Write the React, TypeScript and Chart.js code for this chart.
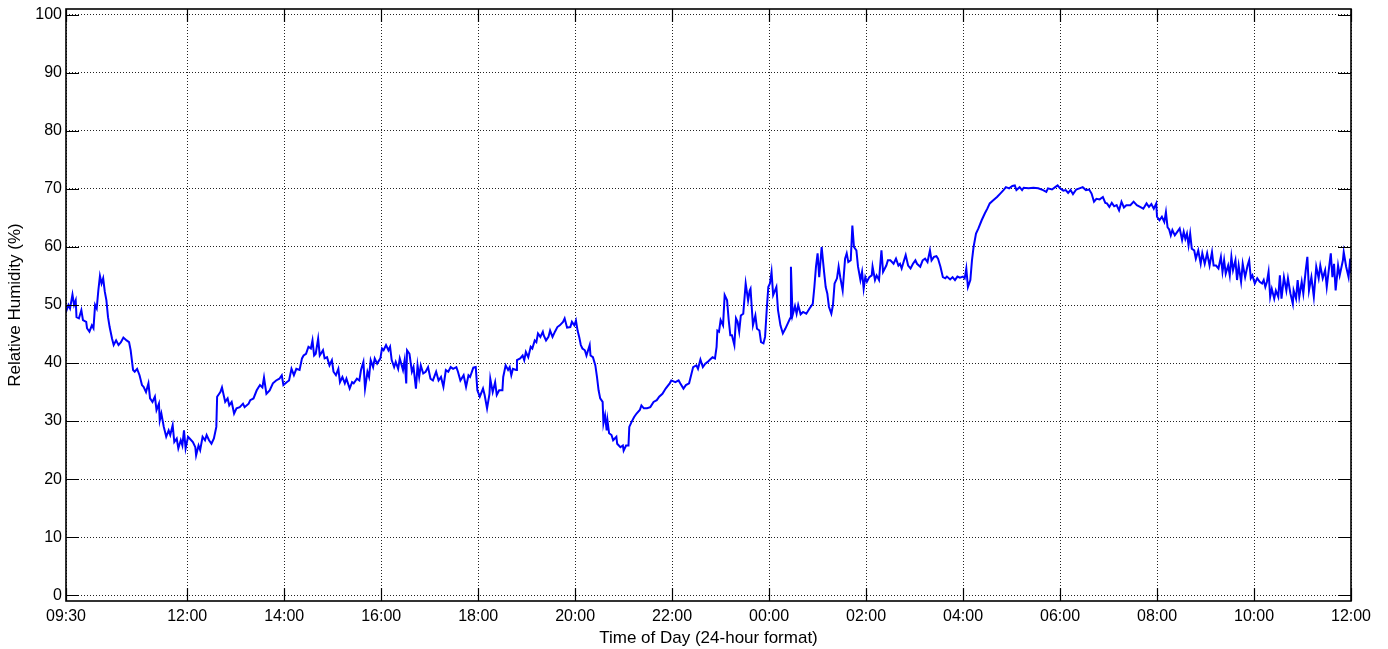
import { useEffect, useRef } from "react";
import { Chart, registerables } from "chart.js";

Chart.register(...registerables);

// Minutes elapsed since the 09:30 start of the recording
const timeMinutes = [
  0, 3, 5, 8, 10, 12, 13, 16, 19, 21, 25, 26, 29, 32, 34, 36, 38, 40, 42, 44, 46, 48, 50, 52, 54, 57, 59, 62, 65, 68,
  71, 75, 78, 80, 83, 85, 88, 91, 94, 96, 99, 102, 104, 107, 110, 112, 115, 116, 118, 121, 124, 127, 129, 132, 134,
  137, 139, 142, 144, 146, 148, 151, 153, 157, 160, 161, 164, 166, 169, 172, 174, 177, 180, 183, 186, 187, 191, 193,
  197, 200, 202, 205, 208, 211, 215, 219, 221, 226, 228, 232, 236, 240, 243, 245, 248, 252, 256, 260, 264, 267, 269,
  273, 276, 279, 282, 285, 289, 292, 294, 297, 300, 303, 305, 307, 309, 312, 314, 318, 320, 323, 326, 329, 331, 334,
  337, 339, 342, 345, 347, 351, 354, 356, 360, 363, 365, 368, 370, 373, 375, 377, 380, 382, 385, 389, 391, 393, 396,
  399, 401, 403, 406, 408, 411, 413, 417, 419, 421, 422, 425, 428, 430, 433, 435, 437, 439, 442, 445, 448, 451, 454,
  458, 461, 464, 467, 470, 473, 476, 479, 483, 485, 488, 492, 495, 498, 500, 504, 507, 509, 512, 516, 518, 521, 524,
  525, 528, 531, 533, 536, 540, 541, 544, 547, 549, 551, 553, 557, 558, 562, 565, 567, 569, 572, 575, 577, 580, 582,
  584, 587, 590, 591, 594, 597, 599, 602, 605, 608, 611, 615, 617, 620, 624, 626, 629, 631, 633, 635, 637, 639, 642,
  644, 646, 648, 649, 652, 655, 657, 659, 661, 664, 665, 667, 669, 670, 672, 675, 677, 681, 682, 686, 689, 690, 693,
  696, 697, 700, 703, 706, 710, 712, 715, 719, 723, 727, 731, 734, 738, 742, 747, 749, 754, 758, 760, 764, 767, 771,
  776, 780, 782, 785, 788, 791, 794, 797, 800, 803, 805, 806, 808, 810, 813, 815, 818, 820, 822, 824, 827, 829, 831,
  833, 835, 838, 841, 844, 846, 847, 850, 853, 855, 858, 860, 863, 865, 867, 869, 871, 873, 875, 879, 881, 884, 887,
  890, 893, 896, 897, 899, 902, 904, 906, 909, 912, 916, 920, 924, 926, 928, 930, 932, 935, 938, 940, 942, 944, 947,
  949, 951, 954, 956, 958, 961, 964, 966, 968, 971, 973, 975, 978, 980, 983, 985, 987, 989, 991, 994, 997, 998, 1001,
  1003, 1006, 1009, 1011, 1015, 1017, 1020, 1024, 1027, 1030, 1032, 1034, 1037, 1039, 1042, 1045, 1048, 1051, 1053,
  1057, 1060, 1063, 1066, 1069, 1071, 1074, 1077, 1079, 1082, 1085, 1088, 1090, 1094, 1097, 1100, 1103, 1106, 1110,
  1112, 1114, 1116, 1119, 1121, 1123, 1126, 1129, 1133, 1137, 1140, 1143, 1147, 1152, 1156, 1160, 1163, 1167, 1171,
  1174, 1176, 1180, 1183, 1185, 1191, 1197, 1203, 1209, 1213, 1215, 1220, 1224, 1227, 1230, 1234, 1237, 1240, 1243,
  1246, 1250, 1254, 1258, 1262, 1266, 1269, 1272, 1275, 1279, 1283, 1286, 1288, 1291, 1294, 1297, 1300, 1303, 1306,
  1309, 1312, 1317, 1321, 1325, 1329, 1333, 1337, 1340, 1343, 1346, 1349, 1350, 1353, 1356, 1359, 1361, 1363, 1365,
  1367, 1369, 1372, 1375, 1378, 1381, 1383, 1385, 1387, 1389, 1391, 1393, 1396, 1398, 1401, 1404, 1406, 1409, 1412,
  1415, 1418, 1420, 1423, 1426, 1429, 1431, 1433, 1435, 1438, 1440, 1442, 1444, 1447, 1449, 1451, 1454, 1456, 1459,
  1462, 1464, 1466, 1468, 1471, 1474, 1477, 1480, 1482, 1484, 1486, 1488, 1490, 1492, 1495, 1497, 1500, 1502, 1504,
  1507, 1510, 1512, 1515, 1518, 1519, 1522, 1524, 1526, 1529, 1531, 1534, 1536, 1538, 1541, 1544, 1547, 1550, 1552,
  1555, 1558, 1560, 1563, 1565, 1567, 1569, 1571, 1574, 1576, 1580, 1581, 1584, 1587, 1589, 1590,
];

// Relative humidity (%)
const humidity = [
  48.8, 50.0, 49.4, 51.8, 50.0, 50.8, 47.9, 47.7, 49.1, 47.4, 47.1, 46.0, 45.4, 46.5, 46.0, 50.0, 49.4, 52.5, 55.0,
  53.7, 54.6, 52.3, 50.8, 47.9, 46.2, 44.2, 43.1, 43.9, 43.1, 43.6, 44.4, 43.9, 43.6, 42.2, 38.8, 38.5, 39.0, 37.9,
  36.2, 35.9, 35.0, 36.5, 33.9, 33.3, 34.2, 31.9, 33.0, 30.1, 31.3, 29.0, 27.3, 28.4, 27.6, 29.3, 26.4, 27.0, 25.3,
  26.7, 25.8, 28.4, 25.3, 27.3, 27.0, 26.4, 25.5, 24.1, 25.8, 25.0, 27.3, 26.7, 27.6, 26.7, 26.1, 27.0, 29.0, 34.2,
  35.0, 35.8, 33.3, 33.9, 32.7, 33.3, 31.3, 32.2, 32.4, 33.0, 32.4, 33.0, 33.6, 33.9, 35.3, 36.2, 35.8, 37.5, 34.7,
  35.3, 36.5, 37.0, 37.3, 37.9, 36.2, 36.7, 37.0, 39.0, 37.9, 39.0, 38.8, 40.8, 41.3, 41.6, 42.8, 42.5, 43.9, 41.3,
  41.6, 44.2, 41.3, 42.2, 40.8, 41.0, 39.6, 40.5, 38.5, 37.9, 39.0, 36.7, 37.6, 36.5, 37.3, 35.6, 36.7, 36.5, 37.3,
  37.0, 38.8, 40.2, 35.6, 38.5, 37.6, 40.5, 39.3, 40.8, 39.9, 40.8, 42.5, 42.2, 43.1, 42.2, 42.8, 40.5, 39.3, 40.2,
  39.0, 40.8, 38.8, 40.5, 36.5, 42.2, 41.6, 38.5, 39.3, 35.6, 39.6, 37.6, 39.6, 38.2, 38.5, 39.3, 37.3, 37.0, 38.5,
  37.0, 37.6, 35.9, 38.8, 38.5, 39.3, 39.0, 39.3, 38.5, 37.0, 37.9, 35.9, 37.9, 37.6, 39.2, 39.3, 35.3, 34.2, 35.6,
  34.5, 32.2, 34.7, 37.3, 35.0, 36.7, 34.5, 35.3, 35.3, 37.6, 39.6, 38.8, 39.3, 37.9, 39.0, 38.8, 40.5, 40.8, 41.3,
  40.5, 41.9, 41.0, 42.8, 42.5, 43.9, 43.6, 45.1, 44.5, 45.4, 44.8, 43.9, 44.5, 45.6, 44.5, 45.4, 46.2, 46.5, 47.1,
  47.7, 46.1, 46.2, 47.1, 46.5, 47.3, 45.6, 44.5, 43.1, 42.5, 42.2, 41.3, 42.2, 43.1, 41.3, 41.0, 39.6, 37.6, 35.3,
  33.9, 33.3, 29.6, 31.0, 28.4, 30.1, 27.9, 27.6, 26.7, 27.3, 26.1, 25.5, 25.8, 24.9, 25.8, 25.8, 29.0, 29.9, 30.7,
  31.3, 31.9, 32.7, 32.2, 32.2, 32.4, 33.3, 33.6, 34.2, 34.7, 35.6, 36.5, 37.0, 36.7, 37.0, 36.5, 35.6, 36.2, 36.5,
  39.3, 39.6, 39.0, 40.6, 39.3, 39.9, 40.2, 40.6, 41.0, 40.8, 42.8, 45.6, 45.4, 47.4, 46.5, 51.7, 50.8, 47.4, 44.8,
  44.8, 43.1, 47.7, 47.1, 45.4, 48.2, 48.5, 53.7, 50.8, 52.5, 52.8, 46.5, 48.2, 45.9, 45.6, 43.6, 43.4, 44.5, 49.1,
  53.1, 53.7, 55.7, 51.7, 53.1, 49.1, 46.5, 45.1, 45.9, 46.8, 47.7, 56.6, 48.2, 49.8, 48.5, 50.0, 48.4, 48.8, 48.5,
  49.4, 50.2, 53.1, 56.6, 58.9, 54.8, 60.0, 55.7, 53.1, 52.0, 49.7, 48.5, 50.0, 53.7, 54.6, 56.6, 54.8, 52.5, 58.0,
  58.9, 57.4, 57.7, 63.7, 60.0, 59.4, 56.6, 54.3, 55.7, 52.8, 54.8, 54.0, 54.8, 55.1, 56.6, 54.3, 55.1, 54.3, 59.4,
  55.7, 56.8, 57.7, 57.7, 57.1, 58.0, 56.8, 57.1, 56.3, 57.7, 58.6, 56.8, 56.3, 57.1, 57.7, 57.1, 56.6, 57.7, 58.0,
  57.4, 59.4, 57.7, 58.3, 58.4, 58.0, 56.6, 54.8, 54.6, 54.9, 54.4, 54.8, 54.3, 54.9, 54.7, 54.9, 54.6, 56.3, 53.1,
  54.3, 57.7, 60.0, 62.3, 63.2, 64.6, 65.8, 66.6, 67.5, 68.0, 68.6, 69.2, 69.8, 70.3, 70.1, 70.5, 70.6, 69.8, 70.3,
  69.8, 70.2, 70.1, 70.2, 70.1, 69.8, 69.5, 70.1, 69.9, 70.3, 70.6, 70.1, 69.7, 69.8, 69.3, 69.8, 69.1, 69.9, 70.1,
  70.3, 69.8, 69.9, 69.2, 67.8, 68.3, 68.2, 68.6, 67.6, 67.5, 66.9, 67.6, 67.0, 67.2, 66.3, 67.8, 66.8, 67.2, 67.2,
  67.8, 67.2, 66.9, 66.6, 67.5, 66.9, 67.4, 66.6, 67.5, 65.2, 64.6, 65.2, 64.3, 66.0, 63.4, 63.0, 62.0, 62.9, 62.0,
  62.6, 63.2, 61.2, 62.6, 61.4, 62.3, 60.3, 62.3, 59.7, 59.4, 58.0, 59.4, 57.1, 58.9, 57.1, 58.9, 56.8, 59.1, 56.8,
  56.8, 56.3, 58.3, 55.7, 57.7, 55.4, 56.8, 55.1, 58.3, 56.0, 57.7, 54.3, 56.8, 54.0, 57.1, 54.8, 56.8, 57.7, 54.6,
  55.1, 53.7, 54.6, 54.0, 53.7, 54.3, 53.1, 54.0, 55.7, 51.4, 52.8, 51.1, 52.5, 51.4, 55.1, 51.1, 54.8, 52.5, 54.6,
  52.0, 50.2, 52.5, 51.1, 54.3, 51.4, 54.0, 52.0, 56.0, 58.3, 52.5, 54.8, 51.4, 56.6, 54.6, 56.8, 54.6, 56.0, 53.1,
  56.6, 58.9, 54.8, 57.1, 52.5, 56.8, 55.1, 57.7, 59.1, 56.6, 54.8, 58.0, 55.5,
];

const START_CLOCK_MINUTES = 9 * 60 + 30;
const xTickMinutes = [0, 150, 270, 390, 510, 630, 750, 870, 990, 1110, 1230, 1350, 1470, 1590];
const yTickValues = [0, 10, 20, 30, 40, 50, 60, 70, 80, 90, 100];
const xTitle = "Time of Day (24-hour format)";
const yTitle = "Relative Humidity (%)";

function clockLabel(m: number): string {
  const t = (((START_CLOCK_MINUTES + m) % 1440) + 1440) % 1440;
  const hh = Math.floor(t / 60);
  const mm = Math.round(t % 60);
  return String(hh).padStart(2, "0") + ":" + String(mm).padStart(2, "0");
}

const FONT = "'Liberation Sans', Arial, Helvetica, sans-serif";

const framePlugin = {
  id: "matlabFrame",
  afterDraw(chart: any) {
    const { ctx, chartArea, scales } = chart;
    const { left, right, top, bottom } = chartArea;
    const L = 13;
    ctx.save();
    ctx.strokeStyle = "#000";
    ctx.lineWidth = 1.2;
    ctx.beginPath();
    for (const v of yTickValues) {
      const y = Math.round(scales.y.getPixelForValue(v)) + 0.5;
      ctx.moveTo(left, y);
      ctx.lineTo(left + L, y);
      ctx.moveTo(right, y);
      ctx.lineTo(right - L, y);
    }
    for (const v of xTickMinutes) {
      const x = Math.round(scales.x.getPixelForValue(v)) + 0.5;
      ctx.moveTo(x, bottom);
      ctx.lineTo(x, bottom - L);
      ctx.moveTo(x, top);
      ctx.lineTo(x, top + L);
    }
    ctx.stroke();
    ctx.lineWidth = 1.6;
    ctx.strokeRect(left, top, right - left, bottom - top);
    ctx.restore();
  },
};

export default function App() {
  const canvasRef = useRef<HTMLCanvasElement | null>(null);

  useEffect(() => {
    document.body.style.margin = "0";
    document.body.style.background = "#fff";
    const canvas = canvasRef.current;
    if (!canvas) return;
    const points = timeMinutes.map((t, i) => ({ x: t, y: humidity[i] }));
    const chart = new Chart(canvas, {
      type: "line",
      data: {
        datasets: [
          {
            data: points,
            borderColor: "#0000ff",
            borderWidth: 2,
            pointRadius: 0,
            fill: false,
            tension: 0,
          },
        ],
      },
      options: {
        animation: false,
        responsive: false,
        maintainAspectRatio: false,
        layout: { padding: { left: 0, right: 37, top: 9, bottom: 0 } },
        plugins: {
          legend: { display: false },
          tooltip: { enabled: false },
        },
        scales: {
          x: {
            type: "linear",
            min: 0,
            max: 1590,
            afterBuildTicks: (scale: any) => {
              scale.ticks = xTickMinutes.map((v) => ({ value: v }));
            },
            afterFit: (scale: any) => {
              scale.height = 48;
              scale.paddingLeft = 0;
              scale.paddingRight = 0;
            },
            ticks: {
              autoSkip: false,
              maxRotation: 0,
              minRotation: 0,
              padding: 6,
              color: "#000",
              font: { family: FONT, size: 16 },
              callback: (v: any) => clockLabel(Number(v)),
            },
            grid: {
              color: "#222",
              lineWidth: 1,
              drawTicks: false,
            },
            border: { display: false, dash: [1, 2] },
            title: {
              display: true,
              text: xTitle,
              color: "#000",
              font: { family: FONT, size: 17 },
              padding: { top: 4, bottom: 0 },
            },
          },
          y: {
            type: "linear",
            min: -1,
            max: 101,
            afterBuildTicks: (scale: any) => {
              scale.ticks = yTickValues.map((v) => ({ value: v }));
            },
            afterFit: (scale: any) => {
              scale.width = 66;
              scale.paddingTop = 0;
              scale.paddingBottom = 0;
            },
            ticks: {
              padding: 4,
              color: "#000",
              font: { family: FONT, size: 16 },
              callback: (v: any) => String(v),
            },
            grid: {
              color: "#222",
              lineWidth: 1,
              drawTicks: false,
            },
            border: { display: false, dash: [1, 2] },
            title: {
              display: true,
              text: yTitle,
              color: "#000",
              font: { family: FONT, size: 17 },
              padding: { top: 5, bottom: 0 },
            },
          },
        },
      },
      plugins: [framePlugin],
    });
    return () => chart.destroy();
  }, []);

  return (
    <div style={{ width: 1388, height: 649, overflow: "hidden", background: "#fff" }}>
      <canvas ref={canvasRef} width={1388} height={649} style={{ display: "block", width: 1388, height: 649 }} />
    </div>
  );
}
